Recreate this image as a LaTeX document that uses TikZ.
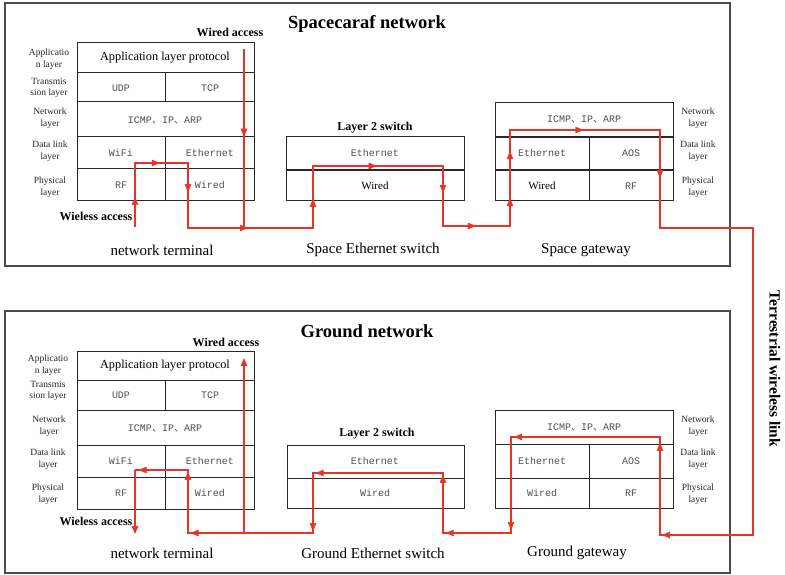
\documentclass[tikz,border=0pt]{standalone}
\usepackage{fontspec}
\setmainfont{Liberation Serif}
\newfontfamily\monof{Liberation Mono}
\newfontfamily\cjkf{Noto Sans CJK SC}
\usetikzlibrary{arrows.meta,decorations.markings}
\definecolor{redl}{RGB}{232,52,40}
\definecolor{monoc}{RGB}{80,80,80}
\definecolor{framec}{RGB}{75,75,75}
\definecolor{boxc}{RGB}{40,40,40}
\tikzset{
  frame/.style={draw=framec, line width=1.3pt},
  box/.style={draw=boxc, line width=1pt},
  thick box/.style={draw=boxc, line width=1.6pt},
  rl/.style={draw=redl, line width=1.3pt},
  am/.style={color=redl, postaction={decorate}, decoration={markings,
     mark=at position #1 with {\arrow{Triangle[length=8pt,width=6.5pt]}}}},
  tipend/.style={-{Triangle[length=8pt,width=6.5pt]}},
  lyr/.style={align=center, font=\fontsize{9.5}{11.5}\selectfont, text=black!85, inner sep=0pt},
  mono/.style={font=\monof\fontsize{10}{11}\selectfont, text=monoc, inner sep=0pt},
  ser/.style={font=\fontsize{11}{13}\selectfont, inner sep=0pt},
  bld/.style={font=\bfseries\fontsize{12}{14}\selectfont, inner sep=0pt},
  dev/.style={font=\fontsize{15}{17}\selectfont, inner sep=0pt},
  ttl/.style={font=\bfseries\fontsize{18.5}{20}\selectfont, inner sep=0pt},
}
\newcommand{\icmp}{ICMP{\cjkf 、}IP{\cjkf 、}ARP}
\begin{document}
\begin{tikzpicture}[x=1pt,y=-1pt]
\useasboundingbox (0,0) rectangle (785,575);
\fill[white] (0,0) rectangle (785,575);

% frames
\draw[frame] (5,3) rectangle (730,266);
\draw[frame] (5,311) rectangle (730,573);
\node[ttl] (t1) at (367,24) {Spacecaraf network};
\node[ttl] (t2) at (367,331) {Ground network};
\node[font=\bfseries\fontsize{15.5}{17}\selectfont, rotate=-90, inner sep=0pt] (tw) at (775,369) {Terrestrial wireless link};

% ---------- top terminal ----------
\draw[box] (77,43) rectangle (254,201);
\draw[box] (77,73) -- (254,73) (77,102) -- (254,102) (77,137) -- (254,137) (77,169) -- (254,169);
\draw[box] (165,73) -- (165,102) (165,137) -- (165,201);
\node[font=\fontsize{12.3}{14}\selectfont, inner sep=0pt] (ta) at (165,58) {Application layer protocol};
\node[mono] (tudp) at (121,88) {UDP};
\node[mono] (ttcp) at (210,88) {TCP};
\node[mono] (tip) at (165,120) {\icmp};
\node[mono] (twifi) at (121,153) {WiFi};
\node[mono] (teth) at (210,153) {Ethernet};
\node[mono] (trf) at (121,185) {RF};
\node[mono] (twir) at (210,185) {Wired};
\node[lyr] (l1) at (49,59) {Applicatio\\n layer};
\node[lyr] (l2) at (49,88) {Transmis\\sion layer};
\node[lyr] (l3) at (50,118) {Network\\layer};
\node[lyr] (l4) at (50,151) {Data link\\layer};
\node[lyr] (l5) at (50,187) {Physical\\layer};
\node[bld] (twa) at (230,32) {Wired access};
\node[bld] (twl) at (96,216) {Wieless access};
\node[dev] (tnt) at (162,250) {network terminal};

% ---------- top switch ----------
\draw[box] (286,137) rectangle (464,201);
\draw[thick box] (286,170) -- (464,170);
\node[bld] (tl2) at (375,128) {Layer 2 switch};
\node[mono] (tseth) at (375,153) {Ethernet};
\node[ser] (tswir) at (375,186) {Wired};
\node[dev] (tsn) at (373,250) {Space Ethernet switch};

% ---------- top gateway ----------
\draw[box] (495,103) rectangle (673,201);
\draw[thick box] (495,137) -- (673,137) (495,170) -- (673,170);
\draw[box] (589,137) -- (589,201);
\node[mono] (tgip) at (584,119) {\icmp};
\node[mono] (tgeth) at (542,153) {Ethernet};
\node[mono] (tgaos) at (631,153) {AOS};
\node[ser] (tgwir) at (542,186) {Wired};
\node[mono] (tgrf) at (631,186) {RF};
\node[lyr] (r1) at (698,118) {Network\\layer};
\node[lyr] (r2) at (698,151) {Data link\\layer};
\node[lyr] (r3) at (698,187) {Physical\\layer};
\node[dev] (tgn) at (586,250) {Space gateway};

% ---------- bottom terminal ----------
\draw[box] (77,351) rectangle (254,509);
\draw[box] (77,380) -- (254,380) (77,410) -- (254,410) (77,445) -- (254,445) (77,477) -- (254,477);
\draw[box] (165,380) -- (165,410) (165,445) -- (165,509);
\node[font=\fontsize{12.3}{14}\selectfont, inner sep=0pt] (ba) at (165,366) {Application layer protocol};
\node[mono] (budp) at (121,395) {UDP};
\node[mono] (btcp) at (210,395) {TCP};
\node[mono] (bip) at (165,428) {\icmp};
\node[mono] (bwifi) at (121,461) {WiFi};
\node[mono] (beth) at (210,461) {Ethernet};
\node[mono] (brf) at (121,493) {RF};
\node[mono] (bwir) at (210,493) {Wired};
\node[lyr] (m1) at (48,365) {Applicatio\\n layer};
\node[lyr] (m2) at (48,391) {Transmis\\sion layer};
\node[lyr] (m3) at (49,426) {Network\\layer};
\node[lyr] (m4) at (48,459) {Data link\\layer};
\node[lyr] (m5) at (48,494) {Physical\\layer};
\node[bld] (bwa) at (226,342) {Wired access};
\node[bld] (bwl) at (96,521) {Wieless access};
\node[dev] (bnt) at (162,553) {network terminal};

% ---------- bottom switch ----------
\draw[box] (287,445) rectangle (464,508);
\draw[box] (287,478) -- (464,478);
\node[bld] (bl2) at (377,434) {Layer 2 switch};
\node[mono] (bseth) at (375,461) {Ethernet};
\node[mono] (bswir) at (375,493) {Wired};
\node[dev] (bsn) at (373,553) {Ground Ethernet switch};

% ---------- bottom gateway ----------
\draw[box] (495,410) rectangle (673,508);
\draw[box] (495,444) -- (673,444) (495,478) -- (673,478);
\draw[box] (589,444) -- (589,508);
\node[mono] (bgip) at (584,427) {\icmp};
\node[mono] (bgeth) at (542,461) {Ethernet};
\node[mono] (bgaos) at (631,461) {AOS};
\node[mono] (bgwir) at (542,493) {Wired};
\node[mono] (bgrf) at (631,493) {RF};
\node[lyr] (n1) at (698,426) {Network\\layer};
\node[lyr] (n2) at (698,459) {Data link\\layer};
\node[lyr] (n3) at (698,494) {Physical\\layer};
\node[dev] (bgn) at (577,553) {Ground gateway};

% ---------- red path coordinates ----------
\coordinate (w0) at (135,227); \coordinate (w1) at (135,163);
\coordinate (w2) at (188,163); \coordinate (w3) at (188,228);
\coordinate (d0) at (244,49);  \coordinate (j1) at (244,228);
\coordinate (s0) at (313,228); \coordinate (s1) at (313,166);
\coordinate (s2) at (443,166); \coordinate (s3) at (443,226);
\coordinate (g0) at (510,226); \coordinate (g1) at (510,130);
\coordinate (g2) at (660,130); \coordinate (g3) at (660,228);
\coordinate (k0) at (753,228); \coordinate (k1) at (753,535);
\coordinate (G3) at (660,535); \coordinate (G2) at (660,437);
\coordinate (G1) at (511,437); \coordinate (G0) at (511,533);
\coordinate (S3) at (443,533); \coordinate (S2) at (443,473);
\coordinate (S1) at (313,473); \coordinate (S0) at (313,533);
\coordinate (J1) at (244,533); \coordinate (D0) at (244,358);
\coordinate (W3) at (188,533); \coordinate (W2) at (188,470);
\coordinate (W1) at (135,470); \coordinate (W0) at (135,534);

\draw[rl, line join=miter] (w0) -- (w1) -- (w2) -- (w3) -- (s0) -- (s1) -- (s2) -- (s3)
  -- (g0) -- (g1) -- (g2) -- (g3) -- (k0) -- (k1) -- (G3) -- (G2) -- (G1) -- (G0)
  -- (S3) -- (S2) -- (S1) -- (S0) -- (W3) -- (W2) -- (W1);
\draw[rl, tipend] (W1) -- (W0);
\draw[rl] (d0) -- (j1);
\draw[rl, tipend] (J1) -- (D0);

% mid arrows
\path[am=0.47] (w0) -- (w1);
\path[am=0.47] (w1) -- (w2);
\path[am=0.45] (w2) -- (w3);
\path[am=0.48] (w3) -- (s0);
\path[am=0.49] (d0) -- (j1);
\path[am=0.47] (s0) -- (s1);
\path[am=0.49] (s1) -- (s2);
\path[am=0.45] (s2) -- (s3);
\path[am=0.49] (s3) -- (g0);
\path[am=0.29] (g0) -- (g1);
\path[am=0.78] (g0) -- (g1);
\path[am=0.49] (g1) -- (g2);
\path[am=0.49] (g2) -- (g3);
\path[am=0.98] (k1) -- (G3);
\path[am=0.94] (G3) -- (G2);
\path[am=0.98] (G2) -- (G1);
\path[am=0.97] (G1) -- (G0);
\path[am=0.96] (G0) -- (S3);
\path[am=0.97] (S3) -- (S2);
\path[am=0.98] (S2) -- (S1);
\path[am=0.97] (S1) -- (S0);
\path[am=0.98] (S0) -- (W3);
\path[am=0.97] (W3) -- (W2);
\path[am=0.93] (W2) -- (W1);
\end{tikzpicture}
\end{document}
